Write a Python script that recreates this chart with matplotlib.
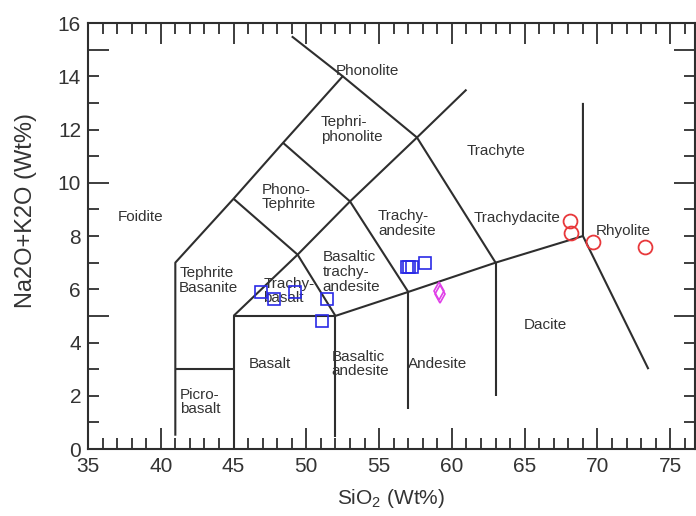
import matplotlib
matplotlib.use("Agg")
import matplotlib.pyplot as plt
from matplotlib.ticker import MultipleLocator, FixedLocator, FuncFormatter

plt.rcParams['font.family'] = ['Liberation Sans', 'DejaVu Sans']
plt.rcParams['mathtext.default'] = 'regular'

# ---- TAS field boundaries (SiO2, Na2O+K2O) ----
boundary_lines = [
    [(41, 0.5), (41, 7), (45, 9.4), (48.4, 11.5), (52.5, 14), (49.0, 15.5)],
    [(41, 3), (45, 3)],
    [(45, 0), (45, 5), (52, 5), (52, 0.45)],
    [(45, 5), (49.4, 7.3), (53, 9.3), (57.6, 11.7), (61, 13.5)],
    [(45, 9.4), (49.4, 7.3), (52, 5)],
    [(48.4, 11.5), (53, 9.3), (57, 5.9)],
    [(52.5, 14), (57.6, 11.7), (63, 7)],
    [(52, 5), (57, 5.9), (63, 7), (69, 8)],
    [(57, 5.9), (57, 1.5)],
    [(63, 7), (63, 2)],
    [(69, 13), (69, 8), (73.5, 3)],
]

# ---- field labels ----
field_names = ["Foidite", "Phonolite", "Tephri-\nphonolite", "Trachyte",
               "Phono-\nTephrite", "Trachy-\nandesite", "Trachydacite",
               "Rhyolite", "Tephrite\nBasanite", "Trachy-\nbasalt",
               "Basaltic\ntrachy-\nandesite", "Andesite", "Dacite", "Basalt",
               "Basaltic\nandesite", "Picro-\nbasalt"]
field_x = [38.6, 54.2, 53.1, 63.0, 48.8, 56.9, 64.5, 71.8, 43.3, 48.8,
           53.1, 59.05, 66.4, 47.5, 53.7, 42.7]
field_y = [8.72, 14.21, 12.0, 11.2, 9.47, 8.46, 8.68, 8.2, 6.32, 5.94,
           6.65, 3.2, 4.66, 3.2, 3.2, 1.77]

# ---- samples ----
sq_sio2 = [46.87, 47.8, 49.23, 51.4, 51.08, 56.9, 57.06, 57.24, 58.16]
sq_alk = [5.91, 5.64, 5.91, 5.64, 4.79, 6.85, 6.85, 6.85, 6.98]

dm_sio2 = [59.1, 59.2]
dm_alk = [5.95, 5.82]

ci_sio2 = [68.13, 68.17, 69.66, 73.28]
ci_alk = [8.55, 8.11, 7.79, 7.6]

fig = plt.figure(figsize=(6.96, 5.16), dpi=100)
ax = fig.add_axes([0.1264, 0.1298, 0.8722, 0.8256])

line_col = '#2e2e2e'
for seg in boundary_lines:
    xs = [p[0] for p in seg]
    ys = [p[1] for p in seg]
    ax.plot(xs, ys, color=line_col, lw=1.5, solid_capstyle='butt', zorder=2)

for name, x, y in zip(field_names, field_x, field_y):
    ax.text(x, y, name, ha='center', va='center', multialignment='left',
            fontsize=11, color='#333333', linespacing=1.05, zorder=3)

ax.plot(sq_sio2, sq_alk, ls='none', marker='s', ms=9.3, mfc='none',
        mec='#2a2ae6', mew=1.2, zorder=4)
ax.plot(dm_sio2, dm_alk, ls='none', marker='d', ms=9, mfc='none',
        mec='#e040e8', mew=1.2, zorder=4)
ax.plot(ci_sio2, ci_alk, ls='none', marker='o', ms=10, mfc='none',
        mec='#e8383b', mew=1.3, zorder=4)

ax.set_xlim(35, 76.7)
ax.set_ylim(0, 16)

ax.xaxis.set_major_locator(MultipleLocator(5))
ax.xaxis.set_minor_locator(MultipleLocator(1))
ax.yaxis.set_major_locator(FixedLocator([5, 10, 15]))
ax.yaxis.set_minor_locator(MultipleLocator(1))
even_fmt = FuncFormatter(lambda v, p: f"{v:g}" if round(v) % 2 == 0 else "")
ax.yaxis.set_major_formatter(even_fmt)
ax.yaxis.set_minor_formatter(even_fmt)

ax.tick_params(which='both', direction='in', top=True, right=True,
               color=line_col, width=1.3, labelsize=15, labelcolor='#333333')
ax.tick_params(which='major', length=15)
ax.tick_params(which='minor', length=8)
ax.tick_params(axis='x', which='both', pad=6)
ax.tick_params(axis='y', which='both', pad=5)

for s in ax.spines.values():
    s.set_color(line_col)
    s.set_linewidth(1.5)

ax.set_xlabel('SiO$_2$ (Wt%)', fontsize=15, color='#333333', labelpad=8)
ax.set_ylabel('Na2O+K2O (Wt%)', fontsize=17, color='#333333')
ax.yaxis.set_label_coords(-0.084, 0.559)

fig.savefig('out.png', dpi=100)
